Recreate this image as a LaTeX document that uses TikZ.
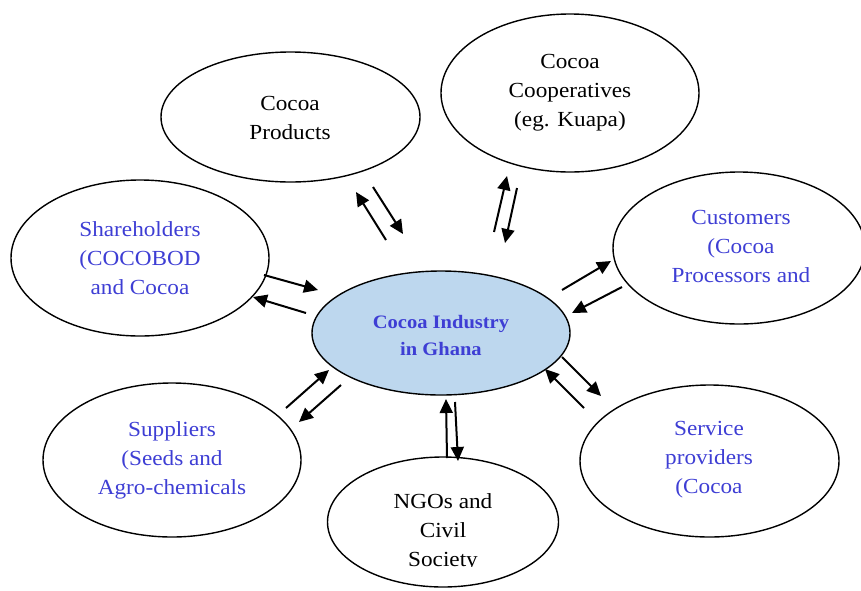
\documentclass[tikz,border=0pt]{standalone}
\usepackage{fontspec}
\setmainfont{Liberation Serif}[FakeStretch=1.08]
\usetikzlibrary{shapes.geometric,arrows.meta}
\definecolor{txtblue}{RGB}{62,62,212}
\definecolor{cfill}{RGB}{189,215,238}
\tikzset{
  ell/.style={ellipse,draw=black,line width=1.4pt,inner sep=0pt},
  lbl/.style={align=center,font=\fontsize{21.5}{29}\selectfont},
  bl/.style={lbl,text=txtblue},
  conn/.style={line width=2pt,-{Triangle[length=14pt,width=13pt]}}
}
\begin{document}
\begin{tikzpicture}[x=1pt,y=-1pt]
\useasboundingbox (0,0) rectangle (861,590);
\clip (0,0) rectangle (861,590);
% ellipses
\node[ell,minimum width=258pt,minimum height=124pt,fill=cfill] (ind) at (441,333) {};
\node[ell,minimum width=259pt,minimum height=130pt] (prod) at (290.5,117) {};
\node[ell,minimum width=258pt,minimum height=158pt] (coop) at (570,93) {};
\node[ell,minimum width=258pt,minimum height=156pt] (share) at (140,258) {};
\node[ell,minimum width=252pt,minimum height=152pt] (cust) at (739,248) {};
\node[ell,minimum width=258pt,minimum height=154pt] (supp) at (172,460) {};
\node[ell,minimum width=231pt,minimum height=130pt] (ngo) at (443,522) {};
\node[ell,minimum width=259pt,minimum height=152pt] (serv) at (709.5,461) {};
% texts
\node[lbl,text=txtblue,font=\bfseries\fontsize{19}{27}\selectfont] (tind) at (441,335) {Cocoa Industry\\in Ghana};
\node[lbl] (tprod) at (290,118) {Cocoa\\Products};
\node[lbl] (tcoop) at (570,93) {Cocoa\\Cooperatives\\(eg. Kuapa)};
\node[bl] (tshare) at (140,258) {Shareholders\\(COCOBOD\\and Cocoa};
\node[bl] (tcust) at (741,246) {Customers\\(Cocoa\\Processors and};
\node[bl] (tsupp) at (172,460) {Suppliers\\(Seeds and\\Agro-chemicals};
\node[bl] (tserv) at (709,460) {Service\\providers\\(Cocoa};
\begin{scope}
\clip (330,470) rectangle (560,566);
\node[lbl] (tngo) at (443,532) {NGOs and\\Civil\\Society};
\end{scope}
% arrow end points
\coordinate (p1a) at (386,240); \coordinate (p1b) at (356,192);
\coordinate (p2a) at (373,187); \coordinate (p2b) at (403,234);
\coordinate (c1a) at (494,232); \coordinate (c1b) at (507,176);
\coordinate (c2a) at (517,188); \coordinate (c2b) at (505,243);
\coordinate (s1a) at (264,275); \coordinate (s1b) at (318,290);
\coordinate (s2a) at (306,313); \coordinate (s2b) at (253,297);
\coordinate (u1a) at (562,290); \coordinate (u1b) at (611,261);
\coordinate (u2a) at (622,287); \coordinate (u2b) at (572,313);
\coordinate (l1a) at (286,408); \coordinate (l1b) at (329,370);
\coordinate (l2a) at (341,385); \coordinate (l2b) at (299,422);
\coordinate (n1a) at (447,458); \coordinate (n1b) at (446,399);
\coordinate (n2a) at (455,402); \coordinate (n2b) at (458,461);
\coordinate (v1a) at (562,357); \coordinate (v1b) at (601,396);
\coordinate (v2a) at (584,408); \coordinate (v2b) at (545,369);
% connectors
\foreach \a/\b in {p1a/p1b,p2a/p2b,c1a/c1b,c2a/c2b,s1a/s1b,s2a/s2b,u1a/u1b,u2a/u2b,l1a/l1b,l2a/l2b,n1a/n1b,n2a/n2b,v1a/v1b,v2a/v2b}
  \draw[conn] (\a) -- (\b);
\end{tikzpicture}
\end{document}
